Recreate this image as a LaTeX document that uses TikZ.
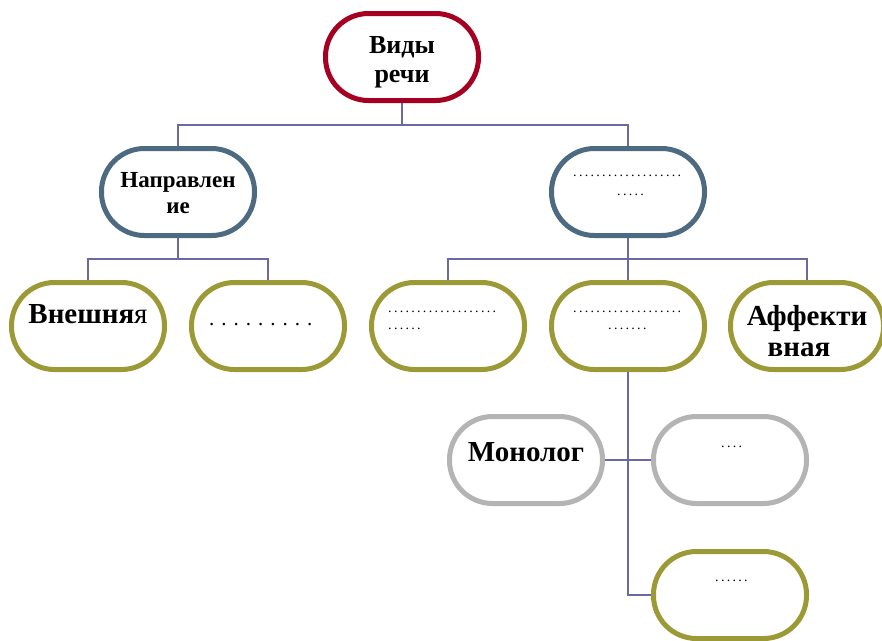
\documentclass[tikz,border=0pt]{standalone}
\usepackage{fontspec}
\setmainfont{Liberation Serif}
\definecolor{cRed}{HTML}{A50021}
\definecolor{cBlue}{HTML}{4D6A80}
\definecolor{cOlive}{HTML}{9C9A36}
\definecolor{cGray}{HTML}{B4B4B4}
\definecolor{cLine}{HTML}{6A6AA0}
\newcount\dcnt
\newcommand\dotrow[1]{\dcnt=0 \loop.\advance\dcnt by 1 \ifnum\dcnt<#1 \kern2.3pt\repeat}
\tikzset{
  pill/.style={draw, fill=white, line width=5pt, rounded corners=43pt,
    minimum width=153pt, minimum height=87pt, inner sep=0pt},
  conn/.style={draw=cLine, line width=1.5pt},
  lbl/.style={anchor=base, inner sep=0pt, font=\bfseries},
  dts/.style={anchor=base west, inner sep=0pt, font=\fontsize{14}{14}\selectfont},
}
\begin{document}
\begin{tikzpicture}[x=1pt,y=-1pt]
\useasboundingbox (0,0) rectangle (882,640);
% connectors
\draw[conn] (402,103) -- (402,125) coordinate (j1);
\draw[conn] (178,146) |- (j1) -| (628,146);
\node[pill, draw=cRed] (vid) at (402,57) {};
\node[pill, draw=cBlue] (napr) at (178,192) {};
\node[pill, draw=cBlue] (top2) at (628,192) {};
\node[pill, draw=cOlive] (vn) at (88,326) {};
\node[pill, draw=cOlive] (r2) at (268,326) {};
\node[pill, draw=cOlive] (r3) at (448,326) {};
\node[pill, draw=cOlive] (r4) at (628,326) {};
\node[pill, draw=cOlive] (aff) at (807,326) {};
\node[pill, draw=cGray] (mono) at (526,460) {};
\node[pill, draw=cGray] (b2) at (730,460) {};
\node[pill, draw=cOlive] (b3) at (730,595) {};
\draw[conn] (vid.south) -- ++(0,22) -| (napr.north);
\draw[conn] (vid.south) -- ++(0,22) -| (top2.north);
\draw[conn] (napr.south) -- ++(0,21) -| (vn.north);
\draw[conn] (napr.south) -- ++(0,21) -| (r2.north);
\draw[conn] (top2.south) -- ++(0,21) -| (r3.north);
\draw[conn] (top2.south) -- ++(0,21) -| (aff.north);
\draw[conn] (top2.south) -- (r4.north);
\draw[conn] (r4.south) |- (b3.west);
\draw[conn] (mono.east) -- (b2.west);
% texts
\node[lbl, font=\bfseries\fontsize{26}{26}\selectfont] (t1) at (402,53) {Виды};
\node[lbl, font=\bfseries\fontsize{26}{26}\selectfont] (t2) at (402,82) {речи};
\node[lbl, font=\bfseries\fontsize{23}{23}\selectfont] (t3) at (178,187) {Направлен};
\node[lbl, font=\bfseries\fontsize{23}{23}\selectfont] (t4) at (178,213) {ие};
\node[lbl, font=\fontsize{29}{29}\selectfont] (t5) at (88,323) {\textbf{Внешня}я};
\node[anchor=base west, inner sep=0pt, font=\fontsize{21}{21}\selectfont] (t6) at (209,325) {. . . . . . . . .};
\node[dts] (t7) at (573,176) {\dotrow{19}};
\node[dts] (t8) at (617,195) {\dotrow{5}};
\node[dts] (t9) at (388,312) {\dotrow{19}};
\node[dts] (t10) at (388,329) {\dotrow{6}};
\node[dts] (t11) at (573,312) {\dotrow{19}};
\node[dts] (t12) at (608,329) {\dotrow{7}};
\node[lbl, font=\bfseries\fontsize{29}{29}\selectfont] (t13) at (807,325) {Аффекти};
\node[lbl, font=\bfseries\fontsize{29}{29}\selectfont] (t14) at (799,356) {вная};
\node[lbl, font=\bfseries\fontsize{29}{29}\selectfont] (t15) at (526,461) {Монолог};
\node[dts] (t16) at (721,447) {\dotrow{4}};
\node[dts] (t17) at (715,581) {\dotrow{6}};
\end{tikzpicture}
\end{document}
